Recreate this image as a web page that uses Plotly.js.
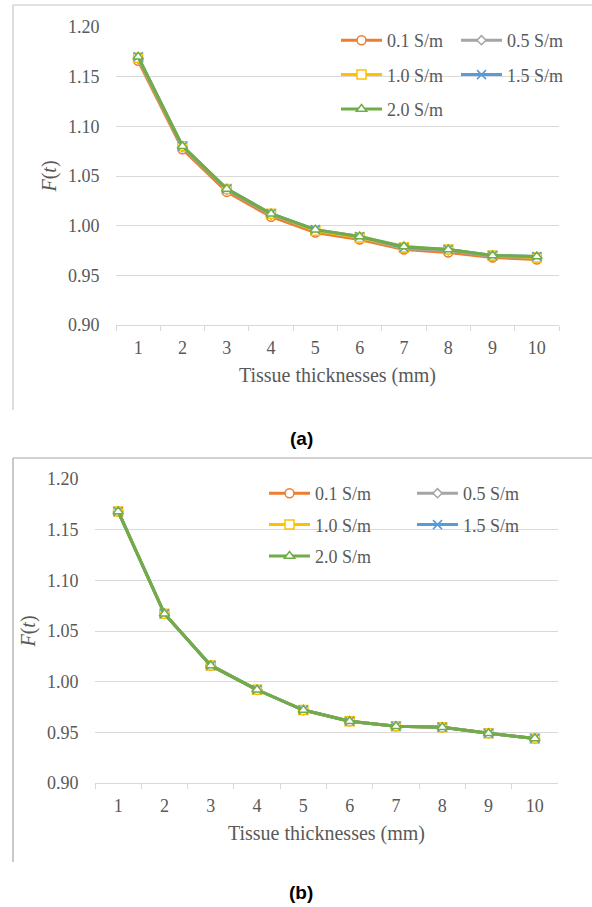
<!DOCTYPE html>
<html>
<head>
<meta charset="utf-8">
<script src="https://cdn.plot.ly/plotly-3.0.1.min.js"></script>
<style>
html,body{margin:0;padding:0;background:#ffffff;}
#chart{width:592px;height:907px;}
</style>
</head>
<body>
<div id="chart"></div>
<script>
// ---- data ----
const thickness = ['1','2','3','4','5','6','7','8','9','10'];
const seriesNames = ['0.1 S/m','0.5 S/m','1.0 S/m','1.5 S/m','2.0 S/m'];
const yTickVals = [0.90,0.95,1.00,1.05,1.10,1.15,1.20];

// (a)
const aSig01 = [1.166,1.077,1.034,1.009,0.993,0.986,0.976,0.973,0.968,0.966];
const aSig05 = [1.168,1.079,1.036,1.011,0.995,0.988,0.977,0.975,0.969,0.968];
const aSig10 = [1.169,1.080,1.037,1.012,0.995,0.988,0.978,0.976,0.970,0.968];
const aSig15 = [1.170,1.080,1.037,1.012,0.996,0.989,0.978,0.976,0.970,0.969];
const aSig20 = [1.170,1.080,1.037,1.012,0.996,0.989,0.979,0.976,0.970,0.969];

// (b)
const bSig01 = [1.168,1.067,1.016,0.992,0.972,0.961,0.956,0.955,0.949,0.944];
const bSig05 = [1.168,1.067,1.016,0.992,0.972,0.961,0.956,0.955,0.949,0.944];
const bSig10 = [1.168,1.067,1.016,0.992,0.972,0.961,0.956,0.955,0.949,0.944];
const bSig15 = [1.168,1.067,1.016,0.992,0.972,0.961,0.956,0.955,0.949,0.944];
const bSig20 = [1.168,1.067,1.016,0.992,0.972,0.961,0.956,0.955,0.949,0.944];

// ---- styles ----
const colors = ['#ED7D31','#A5A5A5','#FFC000','#5B9BD5','#70AD47'];
const symbols = ['circle','diamond','square','x-thin','triangle-up'];
const msizes = [9,7,9,9,9];
const textColor = '#595959';
const serif = 'Liberation Serif, Times New Roman, serif';

function makeTraces(sets, xa, ya, legA, legB){
  return sets.map((vals, i) => ({
    type:'scatter', mode:'lines+markers',
    x: thickness, y: vals, name: seriesNames[i],
    xaxis: xa, yaxis: ya,
    legend: (i % 2 === 0) ? legA : legB,
    legendgroup: xa + '_' + i,
    line:{color:colors[i], width:3},
    marker:{symbol:symbols[i], size:msizes[i], color: (symbols[i]==='x-thin') ? colors[i] : '#ffffff',
            line:{color:colors[i], width:1.5}},
    hoverinfo:'skip'
  }));
}

const traces = [
  ...makeTraces([aSig01,aSig05,aSig10,aSig15,aSig20],'x','y','legend','legend2'),
  ...makeTraces([bSig01,bSig05,bSig10,bSig15,bSig20],'x2','y2','legend3','legend4')
];

const W = 592, H = 907;
const px = v => v / W;
const py = v => 1 - v / H;

function xAxis(domain, anchor){
  return {
    domain: domain, anchor: anchor, type:'category', range:[-0.5, 9.5],
    tickson:'boundaries', ticks:'outside', ticklen:5, tickcolor:'#d9d9d9', tickwidth:1,
    showline:true, linecolor:'#d9d9d9', linewidth:1, showgrid:false, zeroline:false,
    tickfont:{family:serif, size:18, color:textColor},
    ticklabelstandoff: 6,
    title:{text:'Tissue thicknesses (mm)', font:{family:serif, size:20, color:textColor}, standoff:11},
    automargin:false, fixedrange:true
  };
}
function yAxis(domain, anchor){
  return {
    domain: domain, anchor: anchor, range:[0.9, 1.2], tickvals: yTickVals, tickformat:'.2f',
    showgrid:true, gridcolor:'#d9d9d9', gridwidth:1, zeroline:false, showline:false,
    ticks:'outside', ticklen:12, tickcolor:'rgba(0,0,0,0)',
    tickfont:{family:serif, size:18, color:textColor},
    title:{text:'<i>F</i>(<i>t</i>)', font:{family:serif, size:20, color:textColor}, standoff:5},
    automargin:false, fixedrange:true
  };
}
function legendBox(xLeft, yTop, gap){
  return {
    x: px(xLeft), y: py(yTop), xanchor:'left', yanchor:'top', orientation:'v',
    bgcolor:'rgba(0,0,0,0)', borderwidth:0, tracegroupgap:gap,
    font:{family:serif, size:18, color:textColor}, itemwidth:41
  };
}

const layout = {
  width:W, height:H, margin:{l:0,r:0,t:0,b:0},
  paper_bgcolor:'#ffffff', plot_bgcolor:'rgba(0,0,0,0)',
  showlegend:true,
  xaxis: xAxis([px(116), px(559)], 'y'),
  yaxis: yAxis([py(325), py(27)], 'x'),
  xaxis2: xAxis([px(95), px(558)], 'y2'),
  yaxis2: yAxis([py(783), py(479)], 'x2'),
  legend: legendBox(336, 22, 8),
  legend2: legendBox(456, 22, 8),
  legend3: legendBox(264, 475, 5),
  legend4: legendBox(412, 475, 5),
  shapes: [
    {type:'line', xref:'paper', yref:'paper', x0:px(13), x1:px(592), y0:py(5), y1:py(5), line:{color:'#c6c6c6', width:1.2}},
    {type:'line', xref:'paper', yref:'paper', x0:px(13), x1:px(13), y0:py(5), y1:py(410), line:{color:'#c6c6c6', width:1.2}},
    {type:'line', xref:'paper', yref:'paper', x0:px(13), x1:px(592), y0:py(458), y1:py(458), line:{color:'#a6a6a6', width:1.2}},
    {type:'line', xref:'paper', yref:'paper', x0:px(13), x1:px(13), y0:py(458), y1:py(862), line:{color:'#a6a6a6', width:1.2}}
  ],
  annotations: [
    {text:'<b>(a)</b>', xref:'paper', yref:'paper', x:px(301), y:py(438), xanchor:'center', yanchor:'middle', showarrow:false,
     font:{family:'Liberation Sans, Arial, sans-serif', size:19, color:'#000000'}},
    {text:'<b>(b)</b>', xref:'paper', yref:'paper', x:px(301), y:py(892), xanchor:'center', yanchor:'middle', showarrow:false,
     font:{family:'Liberation Sans, Arial, sans-serif', size:19, color:'#000000'}}
  ]
};

Plotly.newPlot('chart', traces, layout, {staticPlot:true, displayModeBar:false});
</script>
</body>
</html>
